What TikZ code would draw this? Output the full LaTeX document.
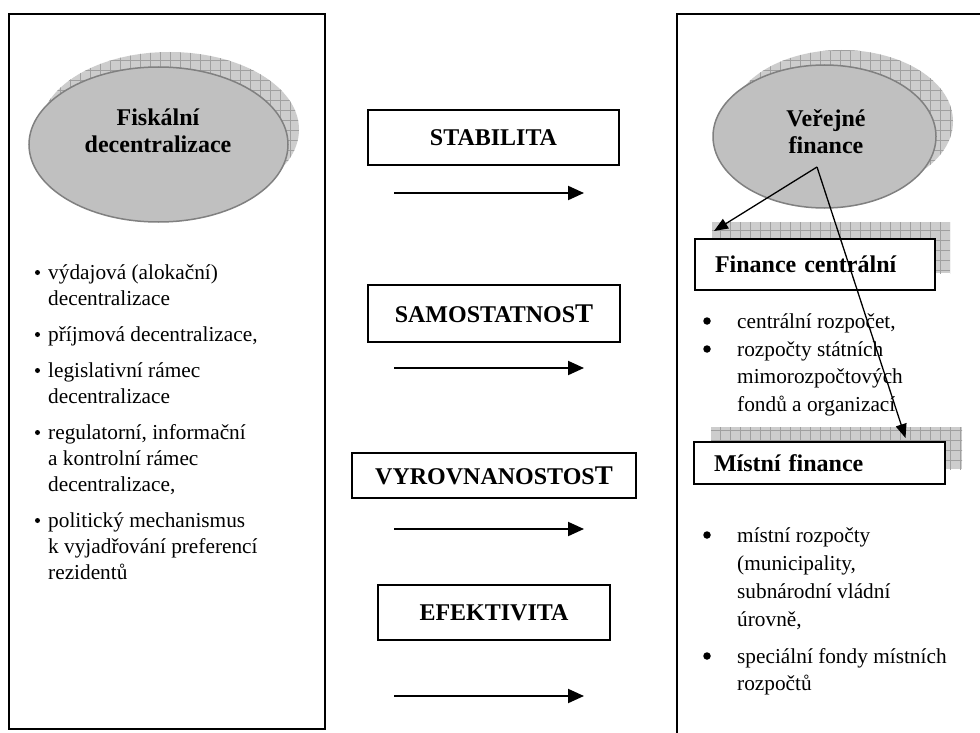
\documentclass[tikz,border=0pt]{standalone}
\usepackage{fontspec}
\setmainfont{Liberation Serif}
\usetikzlibrary{arrows.meta,shapes.geometric}

\definecolor{ovalfill}{HTML}{C0C0C0}
\definecolor{ovalline}{HTML}{808080}
\definecolor{hatchfill}{HTML}{CDCDCD}
\definecolor{hatchline}{HTML}{A0A0A0}

\begin{document}
\begin{tikzpicture}[x=1pt,y=1pt,
  frame/.style={draw=black, line width=2.4pt},
  oval/.style={ellipse, draw=ovalline, line width=1.5pt, fill=ovalfill, inner sep=0pt},
  ovaltext/.style={align=center, inner sep=0pt, font=\fontsize{24}{27}\selectfont\bfseries},
  keybox/.style={draw=black, line width=2pt, fill=white, inner sep=0pt,
    font=\fontsize{24}{28}\selectfont\bfseries},
  finbox/.style={draw=black, line width=2pt, fill=white, inner ysep=0pt, inner xsep=20pt,
    align=left, font=\fontsize{24}{28}\selectfont\bfseries},
  flow/.style={line width=2pt, -{Triangle[length=16pt,width=14pt]}},
  link/.style={line width=1.3pt, -{Triangle[length=14pt,width=11pt]}},
  body/.style={anchor=base west, inner sep=0pt, font=\fontsize{21.3}{26}\selectfont},
  smalldot/.style={circle, fill=black, inner sep=0pt, minimum size=5pt},
  bigdot/.style={circle, fill=black, inner sep=0pt, minimum size=7.5pt},
  gridline/.style={draw=hatchline, line width=0.8pt},
]
\clip (0,0) rectangle (980,-733);
\fill[white] (0,0) rectangle (980,-733);

% ---------- outer frames ----------
\draw[frame] (9,-14) rectangle (325,-729);
\draw[frame] (677,-760) -- (677,-14) -- (1000,-14);

% ---------- left oval with hatched shadow ----------
\begin{scope}
  \fill[hatchfill] (169.5,-129.5) ellipse [x radius=129.5, y radius=77.5];
  \clip (169.5,-129.5) ellipse [x radius=129.5, y radius=77.5];
  \draw[gridline] (30,-40) grid[step=10] (310,-220);
\end{scope}
\node[oval, minimum width=259pt, minimum height=155pt] (fd) at (158.5,-144.5) {};
\node[ovaltext] (fdt) at (158,-131) {Fiskální\\decentralizace};

% ---------- left bullet list ----------
\foreach \n/\y/\t in {
  1/279/{výdajová (alokační)},
  2/305/{decentralizace},
  3/341/{příjmová decentralizace,},
  4/377/{legislativní rámec},
  5/403/{decentralizace},
  6/439/{regulatorní, informační},
  7/465/{a kontrolní rámec},
  8/491/{decentralizace,},
  9/527/{politický mechanismus},
  10/553/{k vyjadřování preferencí},
  11/579/{rezidentů}}{
  \node[body] (ll\n) at (48,-\y) {\t};
}
\foreach \n/\y in {1/279,3/341,4/377,6/439,9/527}{
  \node[smalldot] (lb\n) at (37.5,-\y+6.5) {};
}

% ---------- middle column ----------
\node[keybox, minimum width=251pt, minimum height=55pt] (stab) at (493.5,-137.5) {STABILITA};
\node[keybox, minimum width=252pt, minimum height=57pt] (samo) at (494,-313.5)
  {SAMOSTATNOS{\fontsize{27}{28}\selectfont T}};
\node[keybox, minimum width=284pt, minimum height=45pt] (vyro) at (494,-475.5)
  {VYROVNANOSTOS{\fontsize{27}{28}\selectfont T}};
\node[keybox, minimum width=232pt, minimum height=55pt] (efek) at (494,-612.5) {EFEKTIVITA};

\foreach \n/\y in {1/193,2/368,3/529,4/696}{
  \coordinate (as\n) at (394,-\y);
  \coordinate (ae\n) at (584,-\y);
  \draw[flow] (as\n) -- (ae\n);
}

% ---------- right oval with hatched shadow ----------
\begin{scope}
  \fill[hatchfill] (841.5,-121.5) ellipse [x radius=111.5, y radius=71.5];
  \clip (841.5,-121.5) ellipse [x radius=111.5, y radius=71.5];
  \draw[gridline] (720,-40) grid[step=10] (960,-200);
\end{scope}
\node[oval, minimum width=223pt, minimum height=143pt] (vf) at (824.5,-136.5) {};
\node[ovaltext] (vft) at (826,-132) {Veřejné\\finance};

% ---------- right boxes with hatched shadows ----------
\begin{scope}
  \fill[hatchfill] (712,-222) rectangle (950,-273);
  \clip (712,-222) rectangle (950,-273);
  \draw[gridline] (700,-210) grid[step=10] (960,-280);
\end{scope}
\node[finbox, text width=200pt, minimum height=51pt] (fc) at (815,-264.5) {Finance centrální};

\begin{scope}
  \fill[hatchfill] (711,-427) rectangle (962,-469);
  \clip (711,-427) rectangle (962,-469);
  \draw[gridline] (700,-420) grid[step=10] (970,-480);
\end{scope}
\node[finbox, text width=211pt, minimum height=42pt] (mf) at (819.5,-463) {Místní finance};

% ---------- right bullet lists ----------
\foreach \n/\y/\t in {
  1/328/{centrální rozpočet,},
  2/356/{rozpočty státních},
  3/383/{mimorozpočtových},
  4/411/{fondů a organizací}}{
  \node[body] (rc\n) at (737,-\y) {\t};
}
\foreach \n/\y/\t in {
  1/542/{místní rozpočty},
  2/570/{(municipality,},
  3/598/{subnárodní vládní},
  4/626/{úrovně,},
  5/663/{speciální fondy místních},
  6/690/{rozpočtů}}{
  \node[body] (rm\n) at (737,-\y) {\t};
}
\foreach \n/\y in {c1/328,c2/356,m1/542,m5/663}{
  \node[bigdot] (rb\n) at (707,-\y+7) {};
}

% ---------- links from the public-finance oval ----------
\coordinate (apex) at (817,-167);
\draw[link] (apex) -- ([xshift=20pt,yshift=7pt]fc.north west);
\draw[link] (apex) -- ([xshift=86pt,yshift=3pt]mf.north);
\end{tikzpicture}
\end{document}
